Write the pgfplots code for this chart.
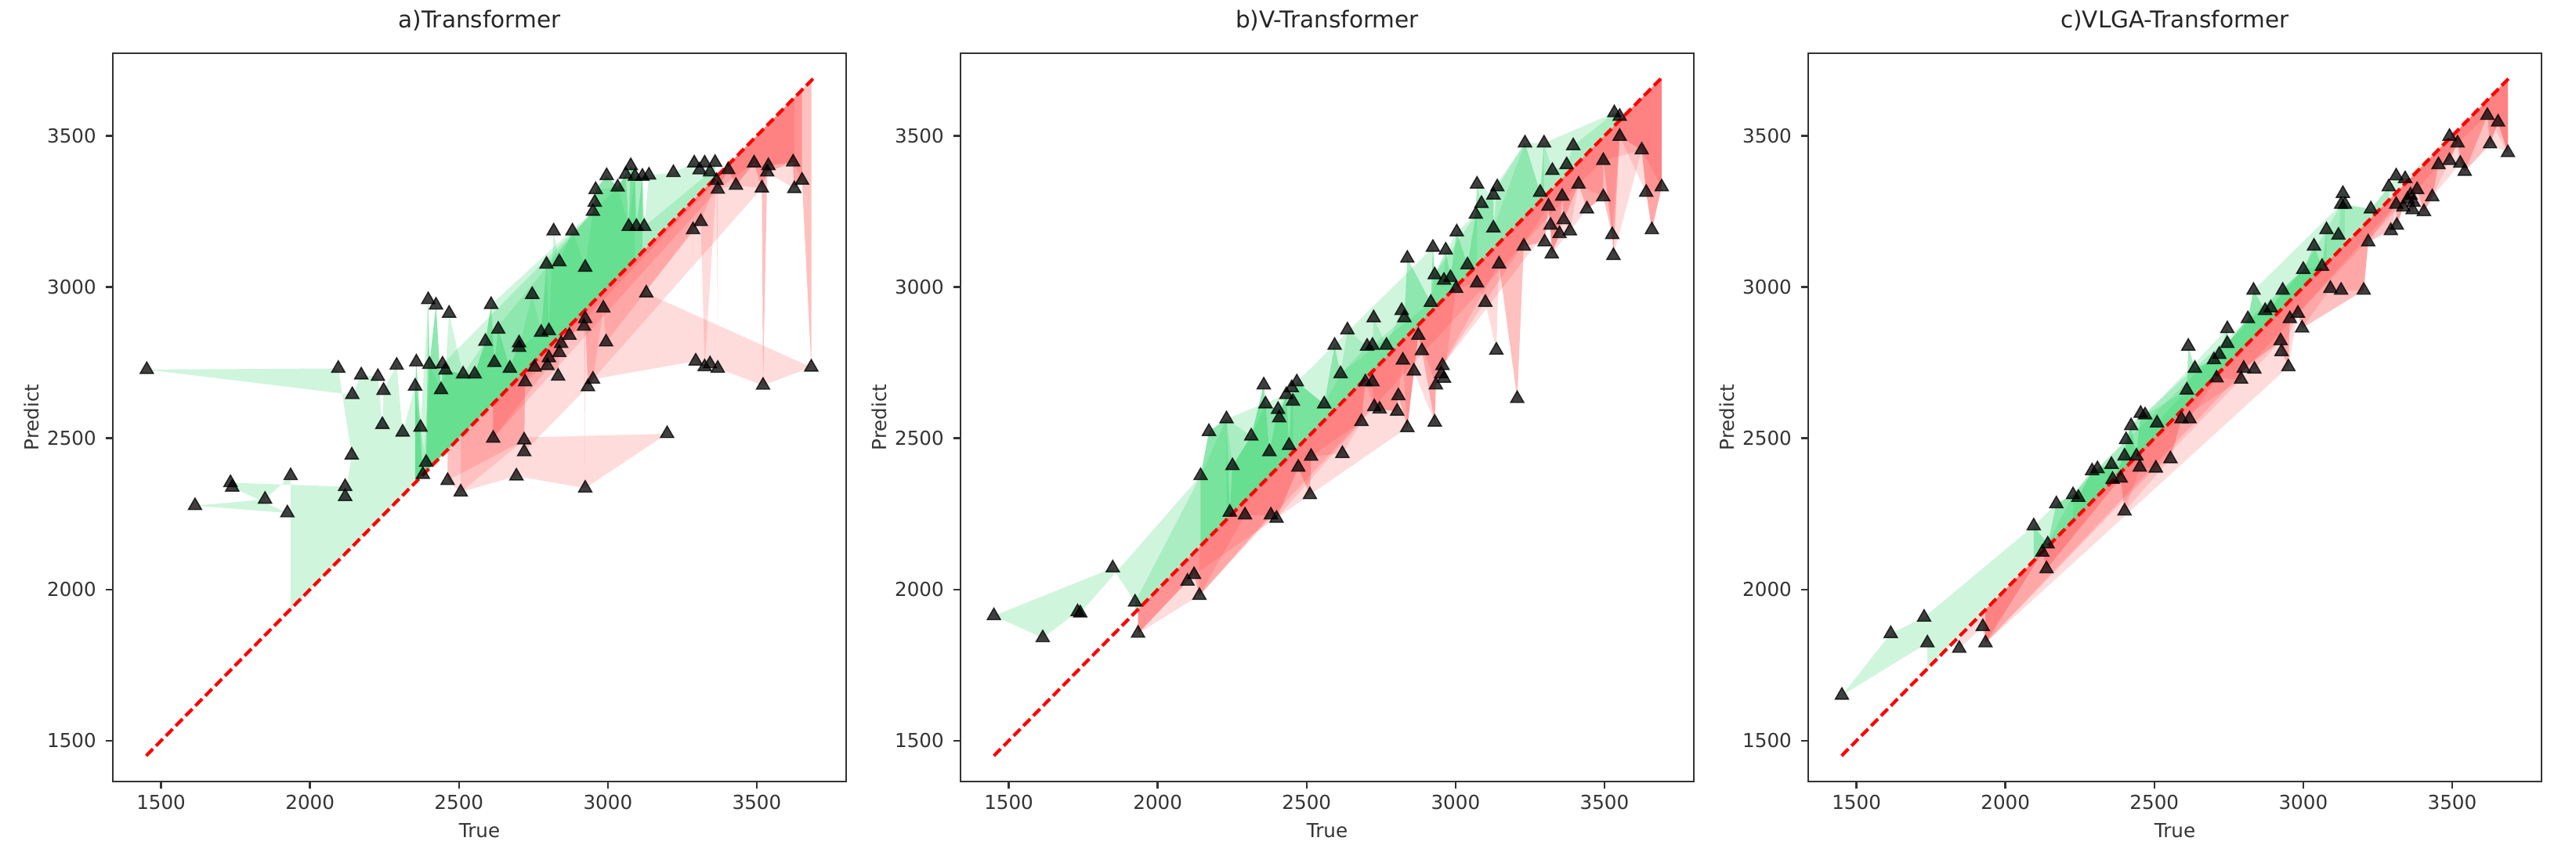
\documentclass[border=0pt]{standalone}
\usepackage{fontspec}
\setmainfont{DejaVu Sans}
\usepackage{pgfplots}
\usepackage{pgfplotstable}
\pgfplotsset{compat=1.18}
\usepgfplotslibrary{fillbetween}

\definecolor{gfill}{RGB}{40,210,100}
\definecolor{rfill}{RGB}{255,40,40}

% true vs predicted (row order sets the shape of the light bands)
\pgfplotstableread{
t p
1935 2376
1849 2298
1614 2277
1924 2253
1739 2338
1733 2353
2118 2340
2118 2307
2140 2444
2095 2731
1452 2727
2142 2644
2172 2709
2228 2704
2243 2545
2247 2658
2291 2741
2311 2520
2353 2672
2357 2752
2371 2536
2379 2380
2390 2420
2397 2958
2401 2744
2423 2940
2440 2660
2445 2745
2455 2725
2462 2360
2506 2322
2693 2375
2924 2335
3199 2515
2615 2500
2719 2494
2719 2455
2467 2913
2514 2712
2553 2712
2589 2820
2608 2942
2619 2750
2632 2860
2671 2731
2702 2815
2702 2800
2722 2686
2746 2975
2754 2735
2776 2850
2794 3075
2797 2740
2802 2855
2802 2766
2818 3185
2833 2705
2837 3083
2837 2783
2843 2813
2871 2840
2881 3185
2920 2870
2924 3065
2924 2895
2933 2670
2950 2695
3295 2755
3325 2736
3343 2746
3369 2731
3521 2675
3683 2735
3129 2980
2950 3250
2956 3280
2959 3322
2985 2930
2994 2818
2996 3368
3033 3330
3060 3372
3070 3200
3077 3401
3091 3366
3096 3200
3116 3366
3122 3200
3138 3370
3220 3378
3286 3189
3290 3410
3308 3387
3312 3216
3325 3410
3343 3380
3360 3412
3365 3352
3369 3323
3404 3388
3430 3336
3491 3410
3517 3327
3535 3380
3539 3401
3622 3413
3626 3325
3652 3353
}\dataA

\pgfplotstableread{
t p
1924 1958
1849 2071
1450 1913
1614 1840
1731 1926
1740 1922
1934 1855
2100 2027
2122 2049
2140 1980
2144 2376
2172 2522
2231 2564
2242 2255
2251 2409
2293 2246
2314 2507
2356 2676
2362 2613
2375 2455
2380 2246
2399 2235
2404 2595
2408 2567
2432 2644
2441 2476
2450 2667
2454 2622
2467 2686
2472 2404
2511 2313
2515 2440
2559 2613
2594 2807
2614 2713
2620 2449
2637 2858
2684 2555
2697 2686
2703 2804
2721 2807
2721 2686
2725 2898
2727 2604
2745 2596
2768 2807
2804 2589
2808 2640
2819 2922
2823 2758
2828 2898
2838 3095
2838 2535
2860 2722
2875 2840
2887 2789
2917 2949
2924 3131
2930 3040
2930 2553
2934 2676
2952 2713
2956 2740
2961 3022
2961 2698
2967 3122
2983 3031
3002 2995
3004 3182
3040 3073
3068 3240
3072 3340
3072 3013
3087 3276
3100 2949
3127 3304
3127 3195
3137 2791
3140 3331
3146 3076
3207 2631
3229 3135
3233 3476
3284 3313
3297 3476
3299 3149
3312 3267
3319 3204
3323 3109
3325 3385
3349 3176
3358 3300
3363 3222
3373 3404
3384 3185
3395 3467
3413 3340
3441 3258
3496 3298
3496 3418
3526 3173
3530 3104
3533 3576
3551 3564
3551 3498
3625 3453
3640 3313
3659 3189
3692 3331
}\dataB

\pgfplotstableread{
t p
1738 1823
1451 1650
1615 1854
1727 1908
1845 1805
1924 1877
1933 1823
2095 2210
2124 2123
2138 2068
2142 2150
2171 2283
2227 2313
2245 2304
2291 2392
2309 2399
2356 2413
2360 2364
2387 2368
2400 2259
2400 2441
2405 2495
2422 2541
2440 2441
2451 2404
2454 2582
2469 2577
2505 2401
2509 2550
2554 2432
2591 2564
2609 2659
2614 2804
2618 2564
2636 2731
2700 2759
2709 2699
2718 2777
2745 2862
2745 2813
2791 2695
2800 2731
2814 2895
2833 2989
2836 2728
2872 2922
2891 2931
2924 2822
2927 2786
2931 2989
2950 2736
2955 2895
2982 2913
2996 2864
3000 3058
3036 3135
3063 3068
3078 3189
3091 2995
3118 3171
3127 2989
3127 3273
3133 3309
3140 3273
3203 2989
3218 3149
3227 3258
3287 3331
3294 3186
3312 3367
3312 3273
3314 3204
3336 3264
3342 3358
3350 3290
3360 3304
3367 3255
3370 3280
3382 3322
3405 3249
3433 3298
3454 3404
3491 3498
3491 3418
3518 3476
3527 3409
3542 3382
3618 3567
3627 3473
3654 3545
3687 3444
}\dataC

% same points ordered by true value, for the darker inner layers
\pgfplotstablesort[sort key=t]{\dataAs}{\dataA}
\pgfplotstablesort[sort key=t]{\dataBs}{\dataB}
\pgfplotstablesort[sort key=t]{\dataCs}{\dataC}

\pgfplotsset{
  panel/.style={
    scale only axis, width=9.36cm, height=9.30cm,
    xmin=1338, xmax=3800, ymin=1365, ymax=3773,
    xtick={1500,2000,...,3500}, ytick={1500,2000,...,3500},
    tick align=outside, tick pos=left, major tick length=2.5pt,
    axis line style={black!80, line width=0.8pt},
    tick style={black!80, line width=0.7pt},
    tick label style={font=\fontsize{7}{8}\selectfont, text=black!80},
    xticklabel style={yshift=1pt},
    label style={font=\fontsize{7}{8}\selectfont, text=black!80},
    xlabel style={yshift=2pt},
    ylabel style={yshift=-4pt},
    title style={font=\fontsize{8.4}{10}\selectfont, text=black!85, yshift=-1.5pt},
    xlabel={True}, ylabel={Predict},
    /pgf/number format/assume math mode=true,
    /pgf/number format/1000 sep={},
  },
  table/over/.style={x=t, y expr={\thisrow{p}>\thisrow{t} ? \thisrow{p} : nan}},
  table/overid/.style={x=t, y expr={\thisrow{p}>\thisrow{t} ? \thisrow{t} : nan}},
  table/under/.style={x=t, y expr={\thisrow{p}<\thisrow{t} ? \thisrow{p} : nan}},
  table/underid/.style={x=t, y expr={\thisrow{p}<\thisrow{t} ? \thisrow{t} : nan}},
}

% one shaded layer: #1 table, #2 unique name, #3 point filter
\newcommand{\bandlayer}[3]{%
  \addplot[draw=none, #3, name path=gu#2] table[over] {#1};
  \addplot[draw=none, #3, name path=gd#2] table[overid] {#1};
  \addplot[draw=none, #3, name path=ru#2] table[under] {#1};
  \addplot[draw=none, #3, name path=rd#2] table[underid] {#1};
  \addplot[fill=gfill, fill opacity=0.22, draw=none] fill between[of=gu#2 and gd#2];
  \addplot[fill=rfill, fill opacity=0.16, draw=none] fill between[of=ru#2 and rd#2];
}

% layer through the points that miss by more than #4 only
\newcommand{\farlayer}[4]{%
  \addplot[draw=none, #3, name path=gu#2] table[x=t, y expr={\thisrow{p}>\thisrow{t}+#4 ? \thisrow{p} : nan}] {#1};
  \addplot[draw=none, #3, name path=gd#2] table[x=t, y expr={\thisrow{p}>\thisrow{t}+#4 ? \thisrow{t} : nan}] {#1};
  \addplot[draw=none, #3, name path=ru#2] table[x=t, y expr={\thisrow{p}<\thisrow{t}-#4 ? \thisrow{p} : nan}] {#1};
  \addplot[draw=none, #3, name path=rd#2] table[x=t, y expr={\thisrow{p}<\thisrow{t}-#4 ? \thisrow{t} : nan}] {#1};
  \addplot[fill=gfill, fill opacity=0.22, draw=none] fill between[of=gu#2 and gd#2];
  \addplot[fill=rfill, fill opacity=0.16, draw=none] fill between[of=ru#2 and rd#2];
}

% one panel: #1 x position, #2 title, #3 table, #4 sorted table, #5 tag,
% #6 start of inner layers, #7 miss for the wide layer
\newcommand{\residualpanel}[7]{%
\begin{axis}[panel, at={(#1,0)}, title={#2}]
  \bandlayer{#3}{#5o}{}
  \farlayer{#4}{#5f}{restrict x to domain=#6:3800}{#7}
  \bandlayer{#4}{#5s}{restrict x to domain=#6:3800}
  \bandlayer{#4}{#5t}{each nth point=2, restrict x to domain=#6:3800}
  \bandlayer{#4}{#5u}{each nth point=3, restrict x to domain=#6:3800}
  \addplot[only marks, mark=triangle*, mark size=2.8pt,
    mark options={draw=black, fill=black, fill opacity=0.75, draw opacity=0.75}]
    table[x=t, y=p] {#3};
  \addplot[red, line width=1.2pt, dash pattern=on 3.5pt off 1.6pt] coordinates {(1450,1450) (3690,3690)};
\end{axis}}

\begin{document}
\begin{tikzpicture}
\residualpanel{0cm}{a)Transformer}{\dataA}{\dataAs}{a}{2350}{150}
\residualpanel{10.82cm}{b)V-Transformer}{\dataB}{\dataBs}{b}{1900}{100}
\residualpanel{21.64cm}{c)VLGA-Transformer}{\dataC}{\dataCs}{c}{1900}{60}
\pgfresetboundingbox
\path[use as bounding box] (-1.44cm,-0.895cm) rectangle (31.44cm,9.98cm);
\end{tikzpicture}
\end{document}
